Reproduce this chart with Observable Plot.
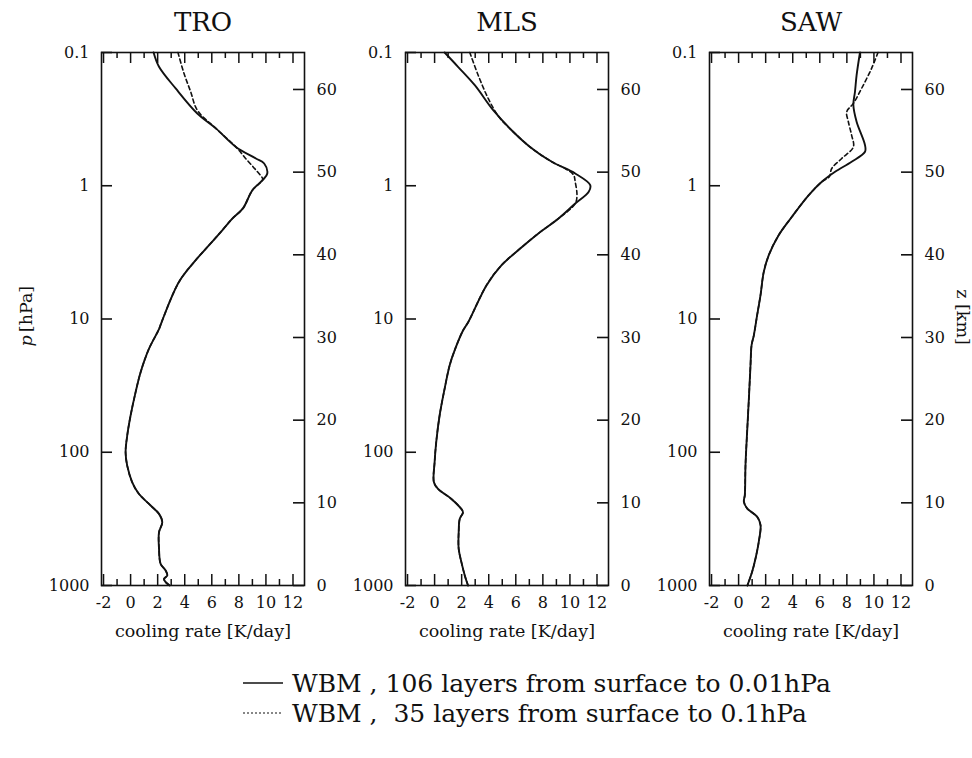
<!DOCTYPE html>
<html><head><meta charset="utf-8">
<script src="https://cdn.jsdelivr.net/npm/d3@7"></script>
<script src="https://cdn.jsdelivr.net/npm/@observablehq/plot@0.6"></script>
<style>
body{margin:0;background:#fff;}
#wrap{position:relative;width:972px;height:758px;font-family:'DejaVu Serif','Liberation Serif',serif;color:#111;}
#wrap svg.p{position:absolute;left:0;top:0;}
#legend{position:absolute;left:243px;top:668px;font-size:25px;}
#legend .row{display:flex;align-items:center;height:30px;white-space:pre;}
#legend svg{margin-right:9px;}
</style></head><body><div id="wrap"><div id="legend"></div></div>
<script>
// ---- data ----
const panelNames = ["TRO", "MLS", "SAW"];
const xMajorTicks = [-2, 0, 2, 4, 6, 8, 10, 12];
const xMinorTicks = [-1, 1, 3, 5, 7, 9, 11];
const pTicks = [0.1, 1, 10, 100, 1000];
const pTickLabels = ["0.1", "1", "10", "100", "1000"];
const zTicks = [0, 10, 20, 30, 40, 50, 60];
const scaleHeightKm = 7; // z = H ln(1000/p), as on the right-hand axis
const legendLabels = ["WBM , 106 layers from surface to 0.01hPa", "WBM ,  35 layers from surface to 0.1hPa"];

// TRO
const tro106P    = [0.1, 0.128, 0.186, 0.287, 0.371, 0.511, 0.624, 0.681, 0.809, 0.908, 1.08, 1.48, 1.76, 2.15, 2.79, 3.62, 5.26, 10.5, 11.9, 16.7, 25.1, 35.4, 53, 75, 100, 126, 168, 205, 251, 290, 335, 398, 531, 688, 771, 841, 891, 944, 1000];
const tro106Rate = [1.7, 2.1, 3.33, 4.93, 6.3, 7.78, 9.26, 9.87, 10.1, 9.75, 9.0, 8.3, 7.53, 6.79, 5.8, 4.81, 3.58, 2.3, 2.1, 1.36, 0.74, 0.37, 0.0, -0.25, -0.37, -0.25, 0.12, 0.61, 1.48, 2.1, 2.34, 2.1, 2.1, 2.22, 2.59, 2.71, 2.47, 2.59, 2.89];
const tro35TopP    = [0.1, 0.144, 0.197, 0.271, 0.371, 0.511, 0.624, 0.75, 0.88];
const tro35TopRate = [3.5, 3.95, 4.44, 4.93, 6.3, 7.78, 8.5, 9.2, 9.75];
// MLS
const mls106P    = [0.1, 0.128, 0.176, 0.271, 0.383, 0.511, 0.661, 0.809, 0.99, 1.11, 1.36, 1.76, 2.28, 3.04, 3.94, 5.57, 10.5, 12.2, 17.2, 22.3, 33.4, 53, 84, 119, 168, 188, 224, 258, 282, 316, 398, 531, 668, 841, 1000];
const mls106Rate = [0.74, 1.73, 2.97, 4.33, 5.69, 7.05, 8.66, 10.39, 11.5, 11.39, 10.39, 9.16, 7.67, 6.19, 4.95, 3.84, 2.5, 2.1, 1.48, 1.11, 0.74, 0.37, 0.12, 0.0, -0.05, 0.25, 1.24, 1.86, 2.1, 1.86, 1.78, 1.78, 1.98, 2.23, 2.47];
const mls35TopP    = [0.1, 0.148, 0.221, 0.304, 0.383, 0.511, 0.661, 0.743, 0.83, 0.934, 1.18];
const mls35TopRate = [2.6, 3.22, 3.96, 4.75, 5.69, 7.05, 8.66, 9.65, 10.27, 10.39, 10.52];
// SAW
const saw106P    = [0.1, 0.148, 0.197, 0.248, 0.331, 0.496, 0.556, 0.661, 0.786, 0.934, 1.18, 1.71, 2.35, 3.32, 4.43, 6.62, 9.36, 13.2, 15.7, 22.2, 39.5, 70.3, 125, 210, 235, 264, 305, 352, 470, 627, 789, 1000];
const saw106Rate = [8.97, 8.72, 8.6, 8.48, 8.72, 9.34, 9.34, 8.35, 7.13, 6.15, 5.17, 3.94, 2.96, 2.23, 1.86, 1.62, 1.37, 1.13, 0.96, 0.88, 0.76, 0.63, 0.51, 0.46, 0.39, 0.63, 1.37, 1.62, 1.49, 1.25, 1.0, 0.65];
const saw35TopP    = [0.1, 0.132, 0.186, 0.241, 0.279, 0.331, 0.417, 0.511, 0.624, 0.742, 0.857];
const saw35TopRate = [10.3, 9.82, 9.09, 8.48, 7.99, 8.11, 8.35, 8.48, 7.62, 6.88, 6.7];

// below the top segment the 35-layer curve lies on the 106-layer curve
function join(topP, topR, p, r) {
  const last = topP[topP.length - 1];
  const P = topP.slice(), R = topR.slice();
  p.forEach((v, i) => { if (v > last) { P.push(v); R.push(r[i]); } });
  return P.map((v, i) => ({p: v, rate: R[i]}));
}
const toRows = (p, r) => p.map((v, i) => ({p: v, rate: r[i]}));

const series = [
  {solid: toRows(tro106P, tro106Rate), dashed: join(tro35TopP, tro35TopRate, tro106P, tro106Rate)},
  {solid: toRows(mls106P, mls106Rate), dashed: join(mls35TopP, mls35TopRate, mls106P, mls106Rate)},
  {solid: toRows(saw106P, saw106Rate), dashed: join(saw35TopP, saw35TopRate, saw106P, saw106Rate)}
];

// ---- layout ----
const W = 972, H = 640, frameTop = 52, frameBottom = 585;
const lefts = [101, 405, 709], FW = 203, FH = frameBottom - frameTop;
const zToP = z => 1000 * Math.exp(-z / scaleHeightKm);
const zTickP = zTicks.map(zToP);
const font = "'DejaVu Serif','Liberation Serif',serif";
const ink = "#111";

const wrap = document.getElementById("wrap");
panelNames.forEach((name, i) => {
  const L = lefts[i], R = L + FW;
  const marks = [
    Plot.line(series[i].dashed, {x: "rate", y: "p", stroke: ink, strokeWidth: 1.6, strokeDasharray: "4,3", curve: "catmull-rom"}),
    Plot.line(series[i].solid, {x: "rate", y: "p", stroke: ink, strokeWidth: 1.9, curve: "catmull-rom"}),
    Plot.frame({stroke: ink, strokeWidth: 1.6}),
    Plot.tickX(xMajorTicks, {x: d => d, insetTop: FH - 11, stroke: ink, strokeWidth: 1.5}),
    Plot.tickX(xMinorTicks, {x: d => d, insetTop: FH - 6, stroke: ink, strokeWidth: 1.5}),
    Plot.tickX(xMajorTicks, {x: d => d, insetBottom: FH - 11, stroke: ink, strokeWidth: 1.5}),
    Plot.tickX(xMinorTicks, {x: d => d, insetBottom: FH - 6, stroke: ink, strokeWidth: 1.5}),
    Plot.tickY(pTicks, {y: d => d, insetRight: FW - 11, stroke: ink, strokeWidth: 1.6}),
    Plot.tickY(zTickP, {y: d => d, insetLeft: FW - 11, stroke: ink, strokeWidth: 1.6}),
    // bottom tick labels
    Plot.text(xMajorTicks, {x: d => d, frameAnchor: "bottom", lineAnchor: "top", dy: 11, text: d => String(d),
      fontFamily: font, fontSize: 16, fill: ink}),
    // left pressure labels
    Plot.text(pTicks, {y: d => d, frameAnchor: "left", textAnchor: "end", dx: -12, text: (d, k) => pTickLabels[k],
      fontFamily: font, fontSize: 16, fill: ink}),
    // right altitude labels
    Plot.text(zTicks, {y: d => zToP(d), frameAnchor: "right", textAnchor: "start", dx: 12, text: d => String(d),
      fontFamily: font, fontSize: 16, fill: ink}),
    Plot.text([name], {frameAnchor: "top", lineAnchor: "middle", textAnchor: "middle", dy: -30, fontSize: 26,
      fontFamily: font, fill: ink, text: d => d}),
    Plot.text(["cooling rate [K/day]"], {frameAnchor: "bottom", lineAnchor: "middle", textAnchor: "middle", dy: 46,
      fontSize: 17.5, fontFamily: font, fill: ink, text: d => d})
  ];
  if (i === 0) {
    marks.push(Plot.text(["[hPa]"], {frameAnchor: "left", textAnchor: "middle", lineAnchor: "middle", dx: -75, dy: -10, rotate: -90,
      fontSize: 17.5, fontFamily: font, fill: ink, text: d => d}));
    marks.push(Plot.text(["p"], {frameAnchor: "left", textAnchor: "middle", lineAnchor: "middle", dx: -75, dy: 22, rotate: -90,
      fontSize: 17.5, fontStyle: "italic", fontFamily: font, fill: ink, text: d => d}));
  }
  if (i === 2) {
    marks.push(Plot.text(["z [km]"], {frameAnchor: "right", textAnchor: "middle", lineAnchor: "middle", dx: 50, dy: -2, rotate: 90,
      fontSize: 17.5, fontFamily: font, fill: ink, text: d => d}));
  }
  const svg = Plot.plot({
    width: W, height: H,
    marginLeft: L, marginRight: W - R, marginTop: frameTop, marginBottom: H - frameBottom,
    x: {domain: [-2.15, 12.85], axis: null},
    y: {type: "log", domain: [0.1, 1000], reverse: true, axis: null},
    style: {background: "transparent", overflow: "visible", fontFamily: font, fontSize: "16px", color: ink},
    marks
  });
  svg.classList.add("p");
  wrap.appendChild(svg);
});

// legend
const legend = document.getElementById("legend");
legendLabels.forEach((label, i) => {
  const row = document.createElement("div");
  row.className = "row";
  row.innerHTML = `<svg width="40" height="10"><line x1="0" x2="40" y1="5" y2="5" stroke="#111" stroke-width="${i ? 1.2 : 1.5}" ${i ? 'stroke-dasharray="2,2"' : ''}/></svg><span>${label}</span>`;
  legend.appendChild(row);
});
</script>
</body></html>
